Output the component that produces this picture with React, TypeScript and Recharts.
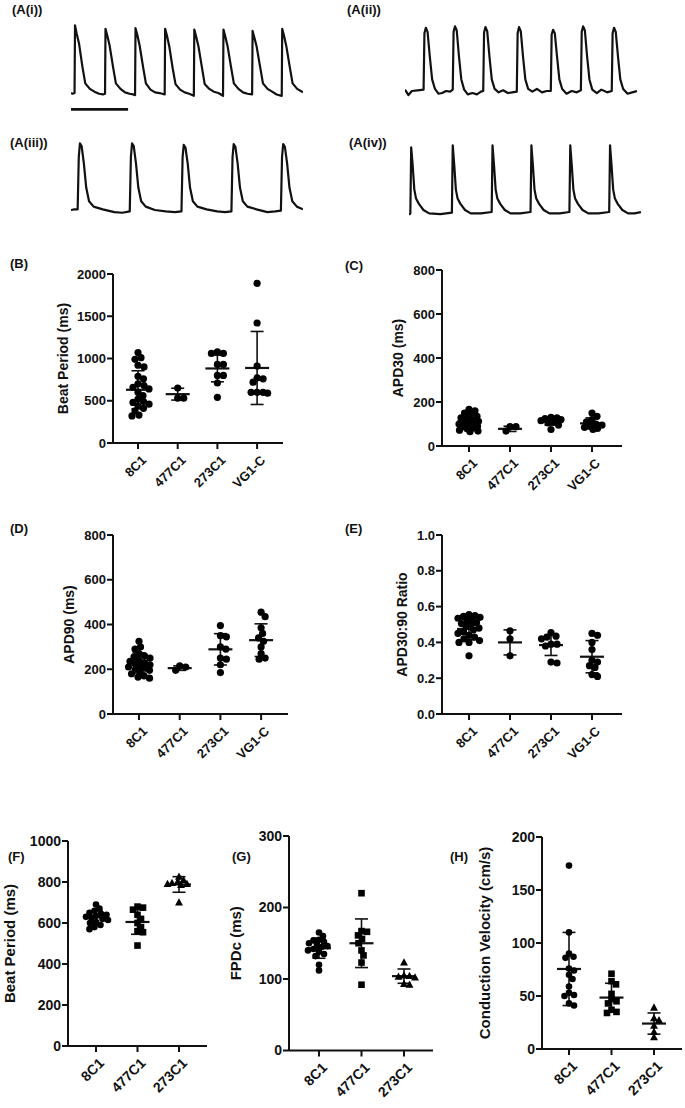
import React from "react";
import {
  ScatterChart,
  Scatter,
  LineChart,
  Line,
  XAxis,
  YAxis,
  ReferenceLine,
  Label,
} from "recharts";

const FONT = '"Liberation Sans", Arial, Helvetica, sans-serif';
const INK = "#111";

// ---- (A) optical action potential traces: [time ms, normalised amplitude]
type Pt = [number, number];

const traceAi: Pt[] = [
  [0, 0.02], [30, 0.01], [62, 0.02],
  [70, 1.0], [100, 0.88], [140, 0.74], [200, 0.4], [250, 0.16], [330, 0.08], [410, 0.04], [490, 0.01], [560, 0.0], [596, 0.01],
  [604, 0.95], [636, 0.85], [676, 0.71], [736, 0.4], [786, 0.16], [866, 0.08], [946, 0.03], [1026, 0.01], [1090, 0.0], [1122, -0.01],
  [1130, 0.96], [1162, 0.86], [1202, 0.71], [1262, 0.4], [1312, 0.16], [1392, 0.07], [1472, 0.03], [1552, 0.02], [1641, 0.0],
  [1649, 0.95], [1681, 0.85], [1721, 0.7], [1781, 0.38], [1831, 0.15], [1911, 0.07], [1991, 0.03], [2071, 0.01], [2152, -0.02],
  [2160, 0.94], [2192, 0.84], [2232, 0.7], [2292, 0.4], [2342, 0.15], [2422, 0.08], [2502, 0.04], [2582, 0.02], [2663, -0.02],
  [2671, 0.94], [2703, 0.84], [2743, 0.7], [2803, 0.4], [2853, 0.16], [2933, 0.08], [3013, 0.03], [3093, 0.01], [3173, 0.0],
  [3181, 0.92], [3213, 0.82], [3253, 0.69], [3313, 0.4], [3363, 0.16], [3443, 0.08], [3523, 0.04], [3603, 0.0], [3692, -0.02],
  [3700, 0.95], [3732, 0.85], [3772, 0.7], [3832, 0.4], [3882, 0.16], [3962, 0.08], [4064, 0.03],
];

const traceAii: Pt[] = [
  [0, 0.07], [60, -0.01], [120, 0.05], [220, 0.06], [325, 0.07],
  [340, 0.9], [365, 0.98], [395, 0.92], [435, 0.55], [475, 0.22], [525, 0.08], [585, 0.01], [650, 0.02], [720, 0.05], [790, 0.04], [836, 0.07],
  [851, 0.92], [876, 1.0], [906, 0.94], [946, 0.55], [986, 0.22], [1036, 0.07], [1100, 0.0], [1180, 0.02], [1260, 0.0], [1330, 0.04], [1370, 0.05],
  [1385, 0.91], [1410, 0.99], [1440, 0.93], [1480, 0.55], [1520, 0.22], [1570, 0.08], [1640, 0.03], [1720, 0.06], [1800, 0.02], [1880, 0.03], [1958, 0.04],
  [1973, 0.9], [1998, 0.99], [2028, 0.93], [2068, 0.55], [2108, 0.22], [2158, 0.08], [2230, 0.04], [2310, 0.08], [2400, 0.03], [2480, 0.05], [2554, 0.05],
  [2569, 0.88], [2594, 0.95], [2624, 0.9], [2664, 0.55], [2704, 0.22], [2754, 0.08], [2830, 0.01], [2920, 0.05], [3010, 0.03], [3081, 0.06],
  [3096, 0.92], [3121, 1.0], [3151, 0.94], [3191, 0.55], [3231, 0.22], [3281, 0.07], [3360, 0.02], [3440, 0.07], [3540, 0.03], [3622, 0.05],
  [3637, 0.9], [3662, 0.98], [3692, 0.92], [3732, 0.55], [3772, 0.22], [3822, 0.08], [3900, 0.01], [3980, 0.03], [4064, 0.05],
];

const traceAiii: Pt[] = [
  [0, 0.02], [60, 0.03], [116, 0.03],
  [136, 0.8], [156, 1.0], [186, 0.96], [226, 0.7], [266, 0.35], [316, 0.15], [396, 0.07], [556, 0.03], [760, -0.01], [900, -0.02], [1029, 0.0],
  [1049, 0.8], [1069, 1.0], [1099, 0.96], [1139, 0.7], [1179, 0.35], [1229, 0.15], [1309, 0.07], [1469, 0.02], [1660, 0.0], [1820, -0.01], [1935, 0.0],
  [1955, 0.8], [1975, 0.98], [2005, 0.94], [2045, 0.7], [2085, 0.35], [2135, 0.15], [2215, 0.07], [2375, 0.03], [2560, 0.0], [2700, -0.01], [2810, 0.0],
  [2830, 0.8], [2850, 0.99], [2880, 0.95], [2920, 0.7], [2960, 0.35], [3010, 0.15], [3090, 0.07], [3250, 0.03], [3440, -0.01], [3580, 0.0], [3677, 0.01],
  [3697, 0.8], [3717, 0.99], [3747, 0.95], [3787, 0.7], [3827, 0.35], [3877, 0.15], [3957, 0.07], [4064, 0.03],
];

const traceAiv: Pt[] = [
  [0, -0.02], [23, 0.0],
  [38, 0.97], [63, 0.72], [93, 0.35], [123, 0.22], [173, 0.14], [253, 0.05], [353, 0.0], [550, -0.01], [751, 0.01],
  [766, 1.0], [791, 0.73], [821, 0.35], [851, 0.22], [901, 0.14], [981, 0.05], [1081, 0.0], [1260, 0.0], [1448, 0.02],
  [1463, 1.0], [1488, 0.72], [1518, 0.35], [1548, 0.22], [1598, 0.14], [1678, 0.05], [1778, 0.0], [1950, 0.0], [2129, 0.02],
  [2144, 1.0], [2169, 0.72], [2199, 0.35], [2229, 0.22], [2279, 0.14], [2359, 0.05], [2459, 0.0], [2640, 0.0], [2810, 0.02],
  [2825, 1.0], [2850, 0.72], [2880, 0.35], [2910, 0.22], [2960, 0.14], [3040, 0.05], [3140, 0.0], [3320, 0.0], [3507, 0.02],
  [3522, 1.0], [3547, 0.72], [3577, 0.35], [3607, 0.22], [3657, 0.14], [3737, 0.05], [3837, 0.0], [3950, 0.0], [4064, 0.02],
];

const TRACE_MS = 4064;
const SCALE_BAR_MS = 1000;

// ---- (B)-(E) optical mapping, four lines
const catsBE = ["8C1", "477C1", "273C1", "VG1-C"];

const beatPeriodB = [
  [1070, 1010, 990, 920, 900, 790, 760, 700, 680, 660, 640, 600, 560, 520, 490, 480, 460, 440, 410, 380, 330, 320],
  [650, 530, 530],
  [1080, 1060, 1060, 930, 930, 800, 800, 710, 540],
  [1890, 1420, 910, 770, 760, 720, 600, 600, 600, 590],
];
const beatPeriodBMean = [630, 578, 882, 888];
const beatPeriodBSd = [225, 70, 158, 432];

const apd30C = [
  [167, 160, 150, 140, 135, 128, 122, 118, 112, 110, 105, 100, 98, 95, 90, 88, 85, 82, 78, 72, 68, 65],
  [68, 88, 88],
  [130, 128, 125, 120, 115, 110, 105, 95, 75],
  [150, 135, 120, 110, 100, 95, 90, 85, 80, 75],
];
const apd30CMean = [111, 78, 110, 103];
const apd30CSd = [30, 12, 15, 25];

const apd90D = [
  [325, 300, 290, 270, 260, 255, 250, 240, 235, 230, 225, 220, 215, 210, 205, 200, 195, 190, 180, 170, 165, 160],
  [195, 215, 210],
  [395, 350, 345, 300, 290, 250, 245, 220, 185],
  [455, 435, 385, 360, 340, 325, 300, 270, 250, 245],
];
const apd90DMean = [228, 205, 289, 330];
const apd90DSd = [45, 10, 70, 73];

const ratioE = [
  [0.555, 0.55, 0.545, 0.54, 0.535, 0.53, 0.52, 0.51, 0.505, 0.5, 0.49, 0.48, 0.47, 0.46, 0.45, 0.44, 0.43, 0.42, 0.41, 0.4, 0.4, 0.325],
  [0.465, 0.42, 0.325],
  [0.455, 0.435, 0.43, 0.42, 0.39, 0.39, 0.38, 0.29, 0.285],
  [0.45, 0.44, 0.4, 0.36, 0.3, 0.29, 0.27, 0.26, 0.22, 0.21],
];
const ratioEMean = [0.475, 0.4, 0.385, 0.32];
const ratioESd = [0.06, 0.07, 0.058, 0.09];

// ---- (F)-(H) MEA, three lines
const catsFH = ["8C1", "477C1", "273C1"];

const beatPeriodF = [
  [690, 670, 660, 650, 645, 640, 635, 630, 625, 620, 615, 605, 600, 590, 580, 570],
  [680, 675, 665, 640, 620, 600, 580, 560, 555, 490],
  [825, 810, 800, 795, 790, 790, 785, 700],
];
const beatPeriodFMean = [628, 605, 788];
const beatPeriodFSd = [32, 60, 38];

const fpdcG = [
  [165, 160, 155, 154, 152, 150, 148, 146, 145, 142, 140, 138, 135, 132, 120, 112],
  [220, 167, 166, 161, 156, 150, 140, 133, 123, 92],
  [123, 105, 104, 103, 102, 93, 92],
];
const fpdcGMean = [143, 150, 104];
const fpdcGSd = [14, 34, 10];

const cvH = [
  [173, 110, 90, 87, 86, 76, 74, 70, 66, 59, 53, 51, 50, 43, 41],
  [71, 64, 61, 52, 47, 45, 43, 37, 35, 34],
  [39, 29, 27, 22, 16, 11],
];
const cvHMean = [75.5, 48.5, 24];
const cvHSd = [34.5, 13.5, 10];

// ---------------------------------------------------------------

type Marker = "circle" | "square" | "triangle";

// spread points sideways (beeswarm); past maxOff px the dots are allowed to overlap
function swarm(values: number[], pxPerVal: number, pxPerCat: number, r: number, maxOff: number) {
  const placed: { x: number; y: number }[] = [];
  const out = new Array(values.length).fill(0);
  const order = values.map((_, i) => i).sort((a, b) => values[b] - values[a]);
  const minD = 2 * r * 0.8;
  for (const i of order) {
    const y = values[i] * pxPerVal;
    let best = 0;
    let bestGap = -1;
    for (let k = 0; k < 400; k++) {
      const cand = k === 0 ? 0 : (k % 2 ? 1 : -1) * Math.ceil(k / 2) * 0.5;
      if (Math.abs(cand) > maxOff) break;
      const gap = placed.reduce((g, p) => Math.min(g, Math.hypot(p.x - cand, p.y - y)), Infinity);
      if (gap >= minD) {
        best = cand;
        bestGap = gap;
        break;
      }
      if (gap > bestGap + 0.5) {
        best = cand;
        bestGap = gap;
      }
    }
    placed.push({ x: best, y });
    out[i] = best / pxPerCat;
  }
  return out;
}

const markerShape = (m: Marker, r: number) => (p: any) => {
  const { cx, cy } = p;
  if (m === "square")
    return <rect x={cx - r} y={cy - r} width={2 * r} height={2 * r} fill="#000" />;
  if (m === "triangle")
    return (
      <polygon
        points={`${cx},${cy - r * 1.3} ${cx - r * 1.2},${cy + r * 0.9} ${cx + r * 1.2},${cy + r * 0.9}`}
        fill="#000"
      />
    );
  return <circle cx={cx} cy={cy} r={r} fill="#000" />;
};

function PanelLetter({ text, x, y, size = 13 }: { text: string; x: number; y: number; size?: number }) {
  return (
    <div
      style={{
        position: "absolute",
        left: x,
        top: y,
        fontFamily: FONT,
        fontWeight: 700,
        fontSize: size,
        lineHeight: `${size}px`,
        color: INK,
        whiteSpace: "nowrap",
      }}
    >
      {text}
    </div>
  );
}

function Trace({
  data,
  left,
  peakY,
  baseY,
  lo,
  scaleBar,
}: {
  data: Pt[];
  left: number;
  peakY: number;
  baseY: number;
  lo: number;
  scaleBar?: number;
}) {
  const hi = 1.05;
  const unit = baseY - peakY;
  const top = peakY - (hi - 1) * unit;
  const height = (hi - lo) * unit;
  const rows = data.map(([t, v]) => ({ t, v }));
  return (
    <div style={{ position: "absolute", left, top }}>
      <LineChart width={232} height={height} data={rows} margin={{ top: 0, right: 0, bottom: 0, left: 0 }}>
        <XAxis dataKey="t" type="number" domain={[0, TRACE_MS]} hide allowDataOverflow />
        <YAxis type="number" domain={[lo, hi]} hide allowDataOverflow />
        <Line
          dataKey="v"
          type="linear"
          stroke={INK}
          strokeWidth={2.2}
          strokeLinejoin="round"
          dot={false}
          isAnimationActive={false}
        />
        {scaleBar !== undefined && (
          <ReferenceLine
            segment={[
              { x: 0, y: scaleBar },
              { x: SCALE_BAR_MS, y: scaleBar },
            ]}
            stroke={INK}
            strokeWidth={2.8}
          />
        )}
      </LineChart>
    </div>
  );
}

interface PanelProps {
  left: number;
  top: number;
  right: number;
  bottom: number;
  firstCat: number;
  catStep: number;
  cats: string[];
  groups: number[][];
  means: number[];
  sds: number[];
  markers: Marker[];
  yMax: number;
  yTicks: number[];
  yFmt?: (v: number) => string;
  title: string;
  titleX: number;
  tickFont: number;
  titleFont: number;
  r: number;
  spread: number;
}

function Panel(p: PanelProps) {
  const YW = 72;
  const MT = 12;
  const MR = 6;
  const XH = 70;
  const plotW = p.right - p.left;
  const plotH = p.bottom - p.top;
  const width = YW + plotW + MR;
  const height = MT + plotH + XH;
  const xLo = (p.left - p.firstCat) / p.catStep;
  const xHi = (p.right - p.firstCat) / p.catStep;
  const pxPerVal = plotH / p.yMax;
  const meanHalf = 12 / p.catStep;
  const capHalf = 6.5 / p.catStep;
  const chartLeft = p.left - YW;

  const series = p.groups.map((vals, gi) => {
    const off = swarm(vals, pxPerVal, p.catStep, p.r, p.spread);
    return vals.map((v, i) => ({ x: gi + off[i], y: v }));
  });

  const CatTick = (tp: any) => {
    const { x, y, payload } = tp;
    const ax = x + 9;
    const ay = y + 12;
    return (
      <text
        x={ax}
        y={ay}
        transform={`rotate(-45, ${ax}, ${ay})`}
        textAnchor="end"
        fontFamily={FONT}
        fontWeight={700}
        fontSize={p.tickFont}
        fill={INK}
      >
        {p.cats[payload.value]}
      </text>
    );
  };

  const renderTitle = (lp: any) => {
    const vb = lp.viewBox;
    const cx = p.titleX - chartLeft;
    const cy = vb.y + vb.height / 2;
    return (
      <text
        x={cx}
        y={cy}
        dy="0.36em"
        transform={`rotate(-90, ${cx}, ${cy})`}
        textAnchor="middle"
        fontFamily={FONT}
        fontWeight={700}
        fontSize={p.titleFont}
        fill={INK}
      >
        {p.title}
      </text>
    );
  };

  return (
    <div style={{ position: "absolute", left: chartLeft, top: p.top - MT }}>
      <ScatterChart width={width} height={height} margin={{ top: MT, right: MR, bottom: 0, left: 0 }}>
        <XAxis
          type="number"
          dataKey="x"
          domain={[xLo, xHi]}
          allowDataOverflow
          ticks={p.cats.map((_, i) => i)}
          interval={0}
          height={XH}
          axisLine={{ stroke: INK, strokeWidth: 2 }}
          tickLine={{ stroke: INK, strokeWidth: 2 }}
          tickSize={6}
          tickMargin={0}
          tick={<CatTick />}
        />
        <YAxis
          type="number"
          dataKey="y"
          domain={[0, p.yMax]}
          allowDataOverflow
          ticks={p.yTicks}
          interval={0}
          width={YW}
          axisLine={{ stroke: INK, strokeWidth: 2 }}
          tickLine={{ stroke: INK, strokeWidth: 2 }}
          tickSize={6}
          tickMargin={1}
          tickFormatter={p.yFmt}
          tick={{ fill: INK, fontSize: p.tickFont, fontWeight: 700, fontFamily: FONT }}
        >
          <Label content={renderTitle} />
        </YAxis>
        {series.map((pts, gi) => (
          <Scatter
            key={gi}
            data={pts}
            shape={markerShape(p.markers[gi], p.r)}
            isAnimationActive={false}
          />
        ))}
        {p.means.map((m, gi) => {
          const lo = m - p.sds[gi];
          const hi = m + p.sds[gi];
          return (
            <React.Fragment key={`sd${gi}`}>
              <ReferenceLine segment={[{ x: gi, y: lo }, { x: gi, y: hi }]} stroke={INK} strokeWidth={1.6} />
              <ReferenceLine segment={[{ x: gi - capHalf, y: hi }, { x: gi + capHalf, y: hi }]} stroke={INK} strokeWidth={1.6} />
              <ReferenceLine segment={[{ x: gi - capHalf, y: lo }, { x: gi + capHalf, y: lo }]} stroke={INK} strokeWidth={1.6} />
              <ReferenceLine segment={[{ x: gi - meanHalf, y: m }, { x: gi + meanHalf, y: m }]} stroke={INK} strokeWidth={2.2} />
            </React.Fragment>
          );
        })}
      </ScatterChart>
    </div>
  );
}

const circles4: Marker[] = ["circle", "circle", "circle", "circle"];
const mixed3: Marker[] = ["circle", "square", "triangle"];

export default function App() {
  return (
    <div
      style={{
        position: "fixed",
        left: 0,
        top: 0,
        width: 685,
        height: 1108,
        background: "#fff",
        overflow: "hidden",
      }}
    >
      <PanelLetter text="(A(i))" x={12} y={3} />
      <PanelLetter text="(A(ii))" x={347} y={3} />
      <PanelLetter text="(A(iii))" x={10} y={136} />
      <PanelLetter text="(A(iv))" x={349} y={136} />

      <Trace data={traceAi} left={71} peakY={25} baseY={94} lo={-0.32} scaleBar={-0.217} />
      <Trace data={traceAii} left={405} peakY={26} baseY={94} lo={-0.12} />
      <Trace data={traceAiii} left={71} peakY={143} baseY={211} lo={-0.12} />
      <Trace data={traceAiv} left={409} peakY={145} baseY={213} lo={-0.12} />

      <PanelLetter text="(B)" x={10} y={257} />
      <PanelLetter text="(C)" x={345} y={259} />
      <PanelLetter text="(D)" x={10} y={522} />
      <PanelLetter text="(E)" x={345} y={522} />
      <PanelLetter text="(F)" x={8} y={850} />
      <PanelLetter text="(G)" x={232} y={850} />
      <PanelLetter text="(H)" x={450} y={850} />

      <Panel
        left={113} top={274} right={283} bottom={443} firstCat={138} catStep={39.7}
        cats={catsBE} groups={beatPeriodB} means={beatPeriodBMean} sds={beatPeriodBSd}
        markers={circles4} yMax={2000} yTicks={[0, 500, 1000, 1500, 2000]}
        title="Beat Period (ms)" titleX={63} tickFont={13} titleFont={14} r={3.6} spread={11}
      />
      <Panel
        left={442} top={270} right={622} bottom={446} firstCat={469} catStep={41}
        cats={catsBE} groups={apd30C} means={apd30CMean} sds={apd30CSd}
        markers={circles4} yMax={800} yTicks={[0, 200, 400, 600, 800]}
        title="APD30 (ms)" titleX={398} tickFont={13} titleFont={14} r={3.6} spread={10}
      />
      <Panel
        left={113} top={535} right={288} bottom={714} firstCat={139} catStep={40.7}
        cats={catsBE} groups={apd90D} means={apd90DMean} sds={apd90DSd}
        markers={circles4} yMax={800} yTicks={[0, 200, 400, 600, 800]}
        title="APD90 (ms)" titleX={69} tickFont={13} titleFont={14} r={3.6} spread={11}
      />
      <Panel
        left={442} top={535} right={622} bottom={714} firstCat={469} catStep={41}
        cats={catsBE} groups={ratioE} means={ratioEMean} sds={ratioESd}
        markers={circles4} yMax={1} yTicks={[0, 0.2, 0.4, 0.6, 0.8, 1]}
        yFmt={(v) => v.toFixed(1)}
        title="APD30:90 Ratio" titleX={402} tickFont={13} titleFont={14} r={3.6} spread={11}
      />
      <Panel
        left={68} top={841} right={207} bottom={1046} firstCat={96} catStep={41.5}
        cats={catsFH} groups={beatPeriodF} means={beatPeriodFMean} sds={beatPeriodFSd}
        markers={mixed3} yMax={1000} yTicks={[0, 200, 400, 600, 800, 1000]}
        title="Beat Period (ms)" titleX={10} tickFont={14} titleFont={15} r={3.3} spread={12}
      />
      <Panel
        left={289} top={835.5} right={433} bottom={1050} firstCat={319} catStep={42.5}
        cats={catsFH} groups={fpdcG} means={fpdcGMean} sds={fpdcGSd}
        markers={mixed3} yMax={300} yTicks={[0, 100, 200, 300]}
        title="FPDc (ms)" titleX={236} tickFont={14} titleFont={15} r={3.3} spread={12}
      />
      <Panel
        left={542} top={837} right={682} bottom={1049} firstCat={569} catStep={42.5}
        cats={catsFH} groups={cvH} means={cvHMean} sds={cvHSd}
        markers={mixed3} yMax={200} yTicks={[0, 50, 100, 150, 200]}
        title="Conduction Velocity (cm/s)" titleX={485} tickFont={14} titleFont={15} r={3.3} spread={12}
      />
    </div>
  );
}
